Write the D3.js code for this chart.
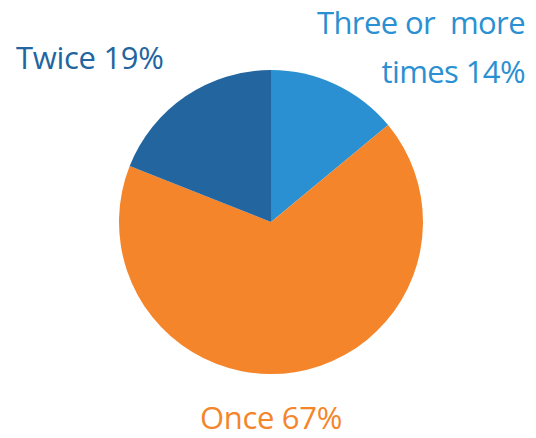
<!DOCTYPE html>
<html>
<head>
<meta charset="utf-8">
<script src="https://cdn.jsdelivr.net/npm/d3@7"></script>
<style>
  body { margin: 0; background: #fff; }
  text { font-family: "Open Sans", sans-serif; }
</style>
</head>
<body>
<div id="chart"></div>
<script>
// data
var categories = ["Three or more times", "Once", "Twice"];
var values = [14, 67, 19];
var colors = ["#2a90d1", "#f5852a", "#22659f"];

var w = 536;
var h = 438;
var cx = 271, cy = 222, radius = 152;

var svg = d3.select("#chart")
  .append("svg")
  .attr("width", w)
  .attr("height", h);

var data = categories.map((c, i) => ({ name: c, value: values[i], color: colors[i] }));

var pie = d3.pie()
  .sort(null)
  .value(d => d.value);

var arc = d3.arc()
  .innerRadius(0)
  .outerRadius(radius);

var g = svg.append("g")
  .attr("transform", "translate(" + cx + "," + cy + ")");

g.selectAll("path")
  .data(pie(data))
  .enter()
  .append("path")
  .attr("d", arc)
  .attr("fill", d => d.data.color);

// labels
var fontSize = 31;

svg.append("text")
  .attr("x", 16)
  .attr("y", 69)
  .attr("font-size", fontSize)
  .attr("letter-spacing", -0.3)
  .attr("fill", colors[2])
  .text("Twice " + values[2] + "%");

var three = svg.append("text")
  .attr("text-anchor", "end")
  .attr("font-size", fontSize)
  .attr("letter-spacing", -0.6)
  .attr("fill", colors[0]);
three.append("tspan").attr("x", 525).attr("y", 34).text("Three or\u00a0 more");
three.append("tspan").attr("x", 525).attr("y", 83).text("times " + values[0] + "%");

svg.append("text")
  .attr("x", 271)
  .attr("y", 429)
  .attr("text-anchor", "middle")
  .attr("font-size", fontSize)
  .attr("letter-spacing", -0.3)
  .attr("fill", colors[1])
  .text("Once " + values[1] + "%");
</script>
</body>
</html>
